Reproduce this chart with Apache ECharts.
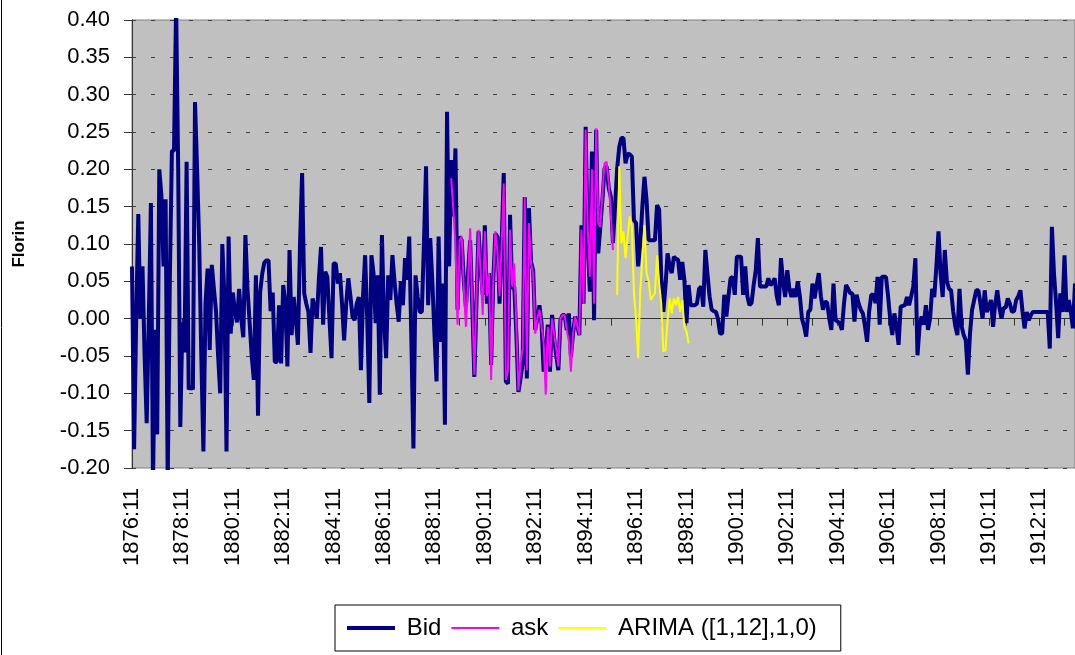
<!DOCTYPE html>
<html>
<head>
<meta charset="utf-8">
<script src="https://cdn.jsdelivr.net/npm/echarts@6/dist/echarts.min.js"></script>
<style>
  html, body { margin: 0; padding: 0; background: #fff; }
  #chart { width: 1075px; height: 655px; }
</style>
</head>
<body>
<div id="chart"></div>
<script>
// monthly series, first month is 1876:11
const startYear = 1876
const startMonth = 11

const bid = [
  0.07, -0.175, 0.00, 0.14, 0.00, 0.07, -0.05, -0.14, 0.00, 0.155,
  -0.22, -0.015, -0.155, 0.20, 0.165, 0.07, 0.16, -0.22, 0.05, 0.225,
  0.225, 0.42, 0.20, -0.145, -0.005, -0.045, 0.21, -0.095, -0.09, -0.095,
  0.29, 0.20, 0.10, -0.05, -0.178, 0.02, 0.067, -0.042, 0.072, 0.04,
  0.01, -0.05, -0.10, 0.10, 0.03, -0.178, 0.11, -0.02, 0.035, 0.01,
  -0.005, 0.04, 0.00, -0.025, 0.112, 0.04, -0.005, -0.05, -0.082, 0.058,
  -0.13, 0.035, 0.06, 0.075, 0.078, 0.078, 0.01, 0.035, -0.058, -0.058,
  0.018, -0.06, 0.045, 0.02, -0.064, 0.092, -0.022, 0.029, 0.00, -0.035,
  0.10, 0.195, 0.034, 0.02, 0.009, -0.046, 0.027, 0.015, 0.00, 0.054,
  0.096, -0.008, 0.063, 0.056, 0.00, -0.053, 0.074, 0.074, 0.047, 0.061,
  0.02, -0.029, 0.02, 0.054, 0.03, 0.003, -0.002, 0.02, 0.029, -0.069,
  0.03, 0.085, 0.00, -0.113, 0.085, 0.061, -0.006, 0.058, -0.102, 0.112,
  0.00, -0.053, 0.058, 0.025, 0.085, 0.05, 0.02, -0.004, 0.05, 0.018,
  0.081, 0.052, 0.11, -0.026, -0.174, 0.058, 0.03, 0.009, 0.009, 0.10,
  0.204, 0.018, 0.108, 0.05, -0.02, -0.084, 0.11, -0.031, 0.047, -0.142,
  0.277, 0.07, 0.2125, 0.137, 0.228, 0.012, 0.11, 0.105, 0.05, 0.016,
  0.06, 0.105, 0.02, -0.078, 0.02, 0.117, 0.07, 0.032, 0.125, 0.02,
  0.061, -0.062, 0.05, 0.114, 0.11, 0.02, 0.10, 0.195, -0.084, -0.087,
  0.139, 0.04, 0.043, -0.02, -0.098, -0.08, -0.06, 0.163, -0.08, 0.148,
  0.076, 0.065, -0.015, 0.00, 0.018, -0.006, -0.071, -0.04, -0.008, -0.071,
  0.005, -0.026, -0.05, -0.069, -0.002, 0.005, 0.005, -0.015, 0.007, -0.051,
  -0.02, 0.003, -0.01, -0.022, 0.125, 0.02, 0.257, 0.10, 0.036, 0.224,
  -0.002, 0.253, 0.0875, 0.123, 0.16, 0.201, 0.204, 0.175, 0.163, 0.101,
  0.15, 0.201, 0.23, 0.242, 0.242, 0.208, 0.221, 0.22, 0.217, 0.132,
  0.128, 0.07, 0.101, 0.15, 0.19, 0.159, 0.105, 0.105, 0.105, 0.105,
  0.152, 0.146, 0.056, 0.009, 0.043, 0.0875, 0.07, 0.061, 0.083, 0.08,
  0.079, 0.052, 0.076, 0.052, -0.006, 0.045, 0.018, 0.018, 0.018, 0.02,
  0.04, 0.043, 0.016, 0.092, 0.06, 0.03, 0.012, 0.01, 0.009, 0.00,
  -0.02, -0.02, 0.032, 0.003, 0.03, 0.054, 0.056, 0.032, 0.083, 0.083,
  0.083, 0.032, 0.07, 0.03, 0.018, 0.021, 0.045, 0.065, 0.108, 0.043,
  0.043, 0.043, 0.043, 0.054, 0.045, 0.048, 0.054, 0.03, 0.018, 0.081,
  0.05, 0.029, 0.065, 0.04, 0.029, 0.04, 0.029, 0.05, 0.03, 0.00,
  -0.01, -0.024, 0.009, 0.012, 0.047, 0.027, 0.045, 0.061, 0.03, 0.012,
  0.023, 0.021, 0.00, -0.015, 0.047, -0.002, -0.004, -0.006, -0.015, 0.02,
  0.045, 0.04, 0.034, 0.034, -0.004, 0.032, 0.02, 0.012, 0.007, -0.01,
  -0.031, 0.01, 0.032, 0.032, 0.021, 0.056, -0.008, 0.056, 0.056, 0.056,
  0.03, 0.00, -0.022, 0.007, -0.01, -0.035, 0.016, 0.017, 0.018, 0.029,
  0.018, 0.03, 0.043, 0.081, -0.049, -0.01, 0.003, -0.008, 0.018, -0.015,
  0.00, 0.04, 0.029, 0.07, 0.117, 0.06, 0.029, 0.092, 0.05, 0.04,
  0.038, 0.01, -0.01, -0.022, 0.04, -0.01, -0.022, -0.029, -0.075, -0.02,
  0.012, 0.025, 0.038, 0.038, 0.02, 0.00, 0.038, 0.009, 0.015, 0.025,
  -0.011, 0.02, 0.038, 0.015, 0.00, 0.014, 0.015, 0.027, 0.02, 0.009,
  0.01, 0.025, 0.03, 0.038, 0.01, -0.013, 0.009, -0.002, 0.005, 0.009,
  0.009, 0.009, 0.009, 0.009, 0.009, 0.009, 0.009, -0.04, 0.123, 0.06,
  0.021, -0.026, 0.034, 0.009, 0.085, 0.009, 0.025, 0.01, -0.013, 0.047
]

// ask starts at month index 152 (1889:07)
const askStart = 152
const ask = [
  0.188, 0.146, 0.10, -0.008, 0.105, 0.11, 0.04, -0.011, 0.05, 0.121,
  0.02, -0.075, 0.03, 0.119, 0.06, 0.005, 0.117, 0.03, 0.061, -0.082,
  0.05, 0.117, 0.09, 0.03, 0.10, 0.181, -0.082, -0.07, 0.119, 0.043,
  0.074, -0.01, -0.096, -0.06, -0.04, 0.163, -0.069, 0.128, 0.074, 0.06,
  -0.02, 0.00, 0.012, -0.01, -0.033, -0.102, -0.011, -0.064, 0.00, -0.02,
  -0.04, -0.064, 0.00, 0.005, 0.005, -0.015, -0.03, -0.071, -0.02, 0.003,
  -0.01, -0.022, 0.119, 0.02, 0.253, 0.12, 0.056, 0.20, 0.02, 0.255,
  0.128, 0.123, 0.17, 0.208, 0.21, 0.181, 0.14, 0.092
]

// ARIMA forecast starts at month index 231
const arimaStart = 231
const arima = [
  0.032, 0.204, 0.101, 0.117, 0.081, 0.11, 0.137, 0.123, 0.034, 0.0,
  -0.053, 0.038, 0.08, 0.125, 0.061, 0.05, 0.025, 0.03, 0.034, 0.085,
  0.047, 0.02, -0.044, -0.042, -0.002, 0.027, 0.007, 0.027, 0.018, 0.029,
  0.009, 0.025, -0.011, -0.017, -0.033
]

const categories = bid.map((_, i) => {
  const t = startMonth - 1 + i
  return (startYear + Math.floor(t / 12)) + ':' + String(t % 12 + 1).padStart(2, '0')
})

// pad the shorter series so they line up on the category axis
const pad = (start, vals) => categories.map((_, i) =>
  (i >= start && i < start + vals.length) ? vals[i - start] : null)

const font = 'Liberation Sans, Arial, sans-serif'

const chart = echarts.init(document.getElementById('chart'))
chart.setOption({
  animation: false,
  backgroundColor: '#fff',
  grid: {
    left: 132, right: 0, top: 20, bottom: 187,
    show: true, backgroundColor: '#C0C0C0', borderColor: '#808080', borderWidth: 1
  },
  legend: {
    left: 335, top: 605,
    padding: [11, 24, 11, 10],
    borderColor: '#000', borderWidth: 1, backgroundColor: '#fff',
    itemWidth: 48, itemHeight: 14, itemGap: 9,
    itemStyle: { opacity: 0 },
    formatter: name => ' ' + name,
    textStyle: { fontFamily: font, fontSize: 24, color: '#000' },
    data: [
      { name: 'Bid', lineStyle: { width: 4 } },
      { name: 'ask', lineStyle: { width: 2 } },
      { name: 'ARIMA ([1,12],1,0)', lineStyle: { width: 2 } }
    ]
  },
  xAxis: {
    type: 'category',
    data: categories,
    boundaryGap: false,
    axisLine: { lineStyle: { color: '#333' } },
    axisTick: { interval: 11, length: 7, lineStyle: { color: '#333' } },
    axisLabel: {
      interval: 23, rotate: 90, margin: 20,
      fontFamily: font, fontSize: 22, color: '#000'
    },
    splitLine: { show: false }
  },
  yAxis: {
    type: 'value',
    min: -0.2, max: 0.4, interval: 0.05,
    name: 'Florin', nameLocation: 'middle', nameGap: 104,
    nameTextStyle: { fontFamily: font, fontSize: 17, fontWeight: 'bold', color: '#000' },
    axisLine: { show: true, lineStyle: { color: '#333' } },
    axisTick: { show: true, length: 8, lineStyle: { color: '#333' } },
    axisLabel: {
      margin: 22, fontFamily: font, fontSize: 22, color: '#000',
      formatter: v => v.toFixed(2)
    },
    splitLine: { lineStyle: { color: '#404040', width: 1, type: [4, 15] } }
  },
  graphic: [{
    type: 'line', shape: { x1: 1.5, y1: 0, x2: 1.5, y2: 655 },
    style: { stroke: '#000', lineWidth: 1 }
  }],
  series: [
    {
      name: 'Bid', type: 'line', data: bid, symbol: 'none',
      lineStyle: { color: '#000080', width: 4 }, itemStyle: { color: '#000080' }
    },
    {
      name: 'ask', type: 'line', data: pad(askStart, ask), symbol: 'none',
      lineStyle: { color: '#FF00FF', width: 2 }, itemStyle: { color: '#FF00FF' }
    },
    {
      name: 'ARIMA ([1,12],1,0)', type: 'line', data: pad(arimaStart, arima), symbol: 'none',
      lineStyle: { color: '#FFFF00', width: 2 }, itemStyle: { color: '#FFFF00' }
    }
  ]
})
</script>
</body>
</html>
